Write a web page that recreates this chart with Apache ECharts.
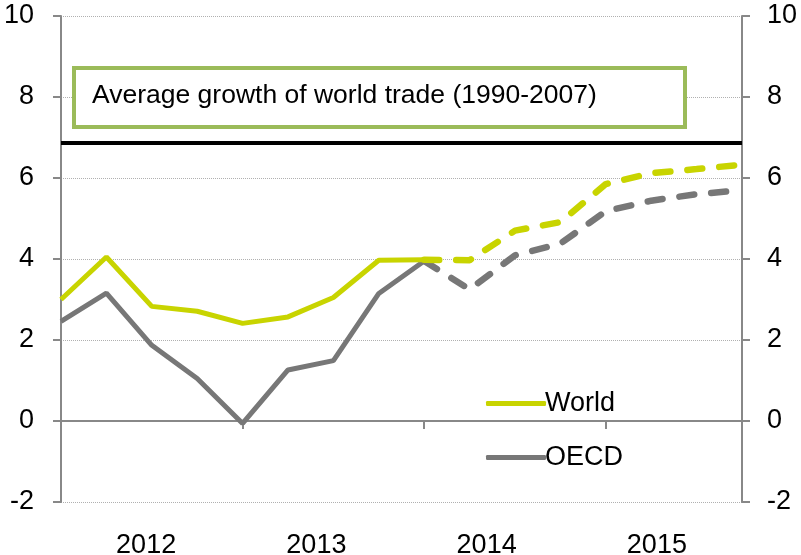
<!DOCTYPE html>
<html>
<head>
<meta charset="utf-8">
<script src="https://cdn.jsdelivr.net/npm/echarts@6/dist/echarts.min.js"></script>
<style>
html,body{margin:0;padding:0;background:#fff;}
#main{width:801px;height:555px;}
</style>
</head>
<body>
<div id="main"></div>
<script>
// quarters 2012Q1 .. 2015Q4, forecast starts at 2014Q1
var quarters=['2012Q1','2012Q2','2012Q3','2012Q4','2013Q1','2013Q2','2013Q3','2013Q4',
	'2014Q1','2014Q2','2014Q3','2014Q4','2015Q1','2015Q2','2015Q3','2015Q4'];
var years=['2012','2013','2014','2015'];
var world=[3.0,4.05,2.83,2.71,2.41,2.57,3.05,3.97,3.98,3.97,4.7,4.91,5.85,6.12,6.22,6.33];
var oecd=[2.46,3.16,1.87,1.05,-0.06,1.26,1.49,3.15,3.95,3.25,4.09,4.38,5.18,5.44,5.6,5.7];
var avgTrade=6.86;//Average growth of world trade (1990-2007)
var forecastFrom=8;
var yTicks={min:-2,max:10,step:2};

var font='"Liberation Sans", Arial, sans-serif';
var green='#C8D400', grey='#777777';

function part(arr,dashed){
	return arr.map(function(v,i){
		if(dashed) return i>=forecastFrom?v:null;
		return i<=forecastFrom?v:null;
	});
}

var myChart=echarts.init(document.getElementById('main'));

var yAxisBase={
	type:'value',min:yTicks.min,max:yTicks.max,interval:yTicks.step,
	axisLine:{show:true,lineStyle:{color:'#888',width:2}},
	axisTick:{show:true,length:8,lineStyle:{color:'#888',width:2}},
	axisLabel:{color:'#000',fontSize:27,fontFamily:font}
};

var option={
	animation:false,
	grid:{left:61,right:59,top:16,bottom:53,outerBoundsMode:'none',containLabel:false},
	xAxis:[{
		type:'category',data:quarters,boundaryGap:false,
		axisLine:{lineStyle:{color:'#888',width:2}},
		axisTick:{show:true,length:8,interval:function(i){return i%4===0;},lineStyle:{color:'#888',width:2}},
		axisLabel:{show:false},
		splitLine:{show:false}
	},{
		type:'category',data:years,boundaryGap:true,position:'bottom',
		axisLine:{show:false},axisTick:{show:false},
		axisLabel:{color:'#000',fontSize:27,fontFamily:font,margin:30}
	}],
	yAxis:[
		echarts.util.merge({position:'left',axisLabel:{margin:27},
			splitLine:{show:true,lineStyle:{color:'#b0b0b0',type:'dotted',width:1}}},yAxisBase,false),
		echarts.util.merge({position:'right',axisLabel:{margin:25},splitLine:{show:false}},yAxisBase,false)
	],
	legend:{
		orient:'vertical',left:481,top:385,itemGap:27,
		itemWidth:60,itemHeight:5,icon:'roundRect',
		data:['World','OECD'],
		textStyle:{color:'#000',fontSize:27,fontFamily:font,padding:[0,0,0,-6]}
	},
	series:[{
		name:'World',type:'line',data:part(world,false),
		showSymbol:false,color:green,lineStyle:{width:5,color:green},z:3,
		markLine:{silent:true,symbol:'none',label:{show:false},
			lineStyle:{color:'#000',width:4,type:'solid'},data:[{yAxis:avgTrade}]}
	},{
		name:'World forecast',type:'line',data:part(world,true),
		showSymbol:false,color:green,lineStyle:{width:6.5,color:green,type:[15,17],cap:'round'},z:3
	},{
		name:'OECD',type:'line',data:part(oecd,false),
		showSymbol:false,color:grey,lineStyle:{width:5,color:grey},z:2
	},{
		name:'OECD forecast',type:'line',data:part(oecd,true),
		showSymbol:false,color:grey,lineStyle:{width:6.5,color:grey,type:[15,17],cap:'round'},z:2
	}],
	graphic:[{
		type:'rect',left:72,top:66,z:10,
		shape:{width:611,height:59},
		style:{fill:'#fff',stroke:'#9BBB59',lineWidth:4}
	},{
		type:'text',left:92,top:82,z:11,
		style:{text:'Average growth of world trade (1990-2007)',fill:'#000',fontSize:26.5,fontFamily:font}
	}]
};
myChart.setOption(option);
</script>
</body>
</html>
